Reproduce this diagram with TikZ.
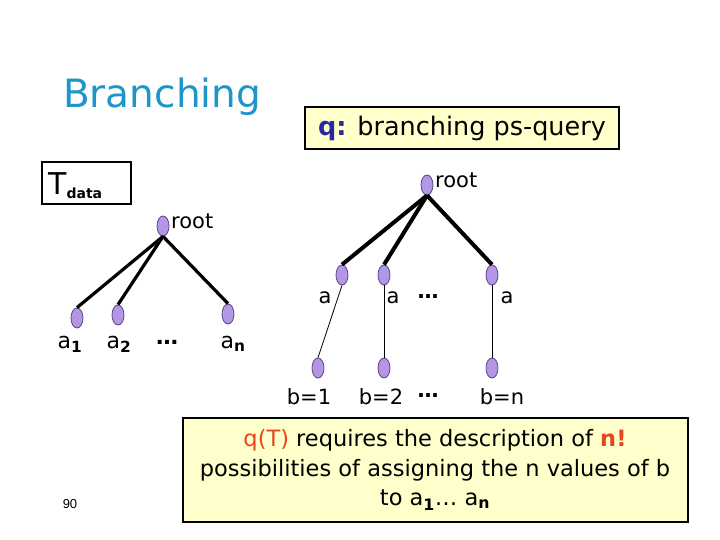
\documentclass[tikz,border=0pt]{standalone}
\usepackage{fontspec}
\setmainfont{DejaVu Sans}
\newfontfamily\numfont{Liberation Sans}
\usetikzlibrary{shapes.geometric}
\definecolor{titleblue}{RGB}{30,150,200}
\definecolor{qblue}{RGB}{40,40,160}
\definecolor{qred}{RGB}{230,70,30}
\definecolor{vfill}{RGB}{180,150,230}
\definecolor{vborder}{RGB}{90,70,130}
\definecolor{boxyellow}{RGB}{255,255,204}
\tikzset{
  vert/.style={ellipse, draw=vborder, fill=vfill, minimum width=12pt, minimum height=20pt, inner sep=0pt, line width=0.8pt},
  thickedge/.style={line width=3.2pt},
  thinedge/.style={line width=0.8pt},
  lbl/.style={font=\fontsize{21}{24}\selectfont, inner sep=0pt},
  alabel/.style={font=\fontsize{22}{24}\selectfont, inner sep=0pt},
  notebox/.style={draw=black, fill=boxyellow, inner sep=0pt, align=center},
}
\begin{document}
\begin{tikzpicture}[x=1pt,y=-1pt]
\fill[white] (0,0) rectangle (720,540);
\useasboundingbox (0,0) rectangle (720,540);

% title
\node[anchor=base west, inner sep=0pt, text=titleblue, font=\fontsize{39}{44}\selectfont] (title) at (63,108) {Branching};

% query box
\node[notebox, line width=1.5pt, minimum width=314pt, minimum height=42pt, font=\fontsize{25.5}{28}\selectfont] (qbox) at (462,128) {{\color{qblue}\bfseries q:} branching ps-query};

% T_data box
\node[draw=black, line width=1.5pt, minimum width=89pt, minimum height=42pt, inner sep=0pt] (tbox) at (86.5,183) {};
\node[anchor=base west, inner sep=0pt, font=\fontsize{30}{32}\selectfont] (tdata) at (48,195) {T\raisebox{-4pt}{\fontsize{14}{15}\selectfont\bfseries data}};

% left tree
\node[vert] (lroot) at (163,226) {};
\node[lbl, anchor=west] (lrootlbl) at (171,221) {root};
\node[vert] (la1) at (77,318) {};
\node[vert] (la2) at (118,315) {};
\node[vert] (lan) at (228,314) {};
\draw[thickedge] (lroot.south) -- (la1.north);
\draw[thickedge] (lroot.south) -- (la2.north);
\draw[thickedge] (lroot.south) -- (lan.north);
\node[alabel, anchor=base] (la1lbl) at (70,348) {a\textsubscript{\bfseries 1}};
\node[alabel, anchor=base] (la2lbl) at (119,348) {a\textsubscript{\bfseries 2}};
\node[alabel, anchor=base] (ldots) at (167,344) {\bfseries …};
\node[alabel, anchor=base] (lanlbl) at (233,348) {a\textsubscript{\bfseries n}};

% right tree
\node[vert] (rroot) at (427,185) {};
\node[lbl, anchor=west] (rrootlbl) at (435,180) {root};
\node[vert] (ra1) at (342,275) {};
\node[vert] (ra2) at (384,275) {};
\node[vert] (ran) at (492,275) {};
\draw[line width=4pt] (rroot.south) -- (ra1.north);
\draw[line width=4pt] (rroot.south) -- (ra2.north);
\draw[line width=4pt] (rroot.south) -- (ran.north);
\node[vert] (rb1) at (318,368) {};
\node[vert] (rb2) at (384,368) {};
\node[vert] (rbn) at (492,368) {};
\draw[thinedge] (ra1.south) -- (rb1.north);
\draw[thinedge] (ra2.south) -- (rb2.north);
\draw[thinedge] (ran.south) -- (rbn.north);
\node[lbl, anchor=base] (ra1lbl) at (325,303) {a};
\node[lbl, anchor=base] (ra2lbl) at (393,303) {a};
\node[lbl, anchor=base] (radots) at (428,298) {\bfseries …};
\node[lbl, anchor=base] (ranlbl) at (507,303) {a};
\node[lbl, anchor=base] (rb1lbl) at (309,404) {b=1};
\node[lbl, anchor=base] (rb2lbl) at (381,404) {b=2};
\node[lbl, anchor=base] (rbdots) at (428,397) {\bfseries …};
\node[lbl, anchor=base] (rbnlbl) at (502,404) {b=n};

% bottom note
\node[notebox, line width=2pt, minimum width=505pt, minimum height=104pt, font=\fontsize{22.5}{29.5}\selectfont] (note) at (435,470) {{\color{qred}q(T)} requires the description of {\color{qred}\bfseries n!}\\possibilities of assigning the n values of b\\to a\textsubscript{\bfseries 1}… a\textsubscript{\bfseries n}};

% page number
\node[anchor=base, inner sep=0pt, font=\numfont\fontsize{13}{14}\selectfont] (pgnum) at (70,508) {90};
\end{tikzpicture}
\end{document}
